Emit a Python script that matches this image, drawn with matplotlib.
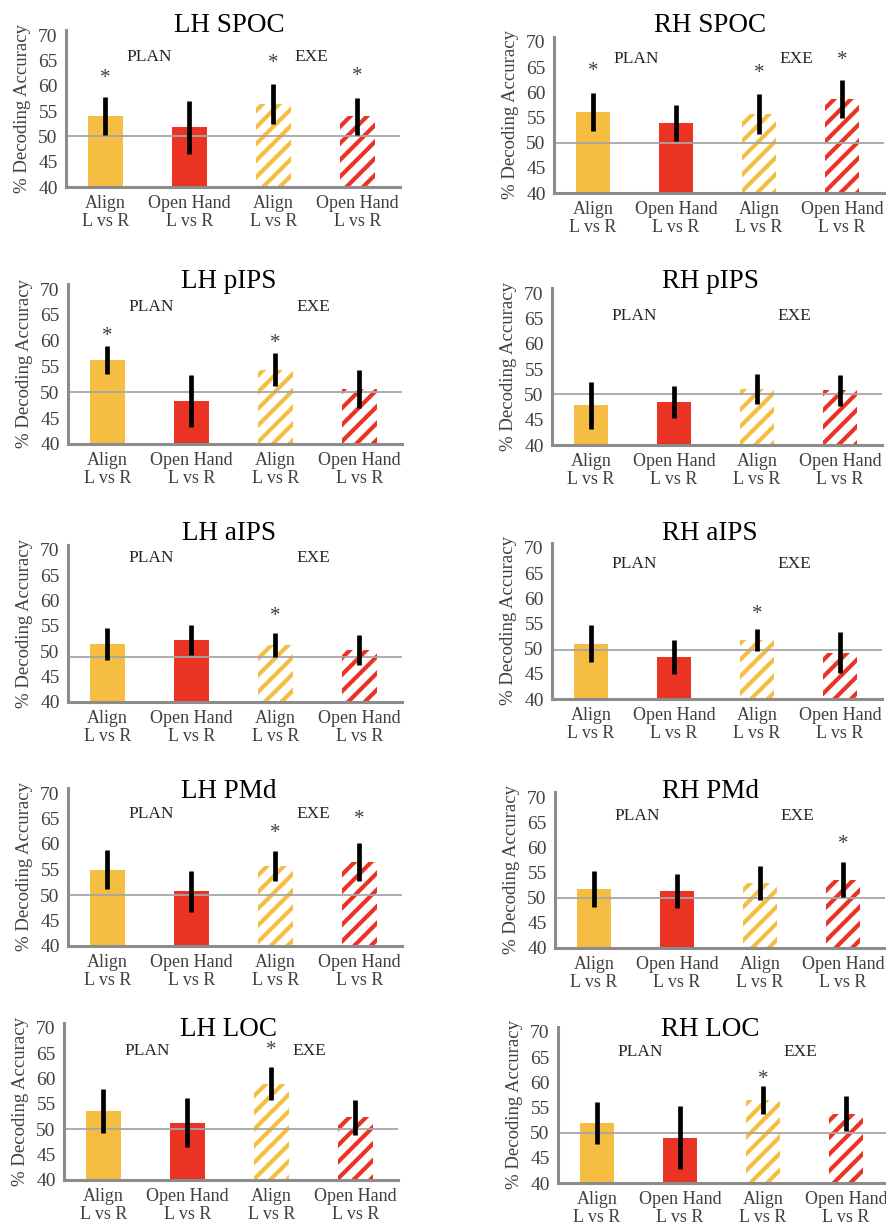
import matplotlib
matplotlib.use("Agg")
import matplotlib.pyplot as plt
import numpy as np

plt.rcParams["font.family"] = ["Liberation Serif", "DejaVu Serif"]
plt.rcParams["hatch.linewidth"] = 3.0

# data
regions = ["LH SPOC", "RH SPOC", "LH pIPS", "RH pIPS", "LH aIPS",
           "RH aIPS", "LH PMd", "RH PMd", "LH LOC", "RH LOC"]
conditions = ["Align\nL vs R", "Open Hand\nL vs R", "Align\nL vs R", "Open Hand\nL vs R"]

means = [
    [54.0, 51.8, 56.4, 54.0],
    [56.1, 53.9, 55.7, 58.7],
    [56.3, 48.3, 54.4, 50.6],
    [47.8, 48.5, 51.1, 50.8],
    [51.5, 52.3, 51.2, 50.3],
    [51.0, 48.3, 51.8, 49.2],
    [55.0, 50.7, 55.7, 56.5],
    [51.7, 51.3, 52.9, 53.6],
    [53.6, 51.3, 59.0, 52.4],
    [51.9, 49.0, 56.5, 53.8],
]
errs = [
    [3.75, 5.25, 3.95, 3.65],
    [3.8, 3.5, 3.9, 3.8],
    [2.7, 5.0, 3.25, 3.7],
    [4.6, 3.1, 2.95, 3.1],
    [3.15, 2.95, 2.4, 2.95],
    [3.7, 3.35, 2.2, 4.1],
    [3.75, 4.1, 3.0, 3.7],
    [3.6, 3.4, 3.3, 3.4],
    [4.3, 4.8, 3.25, 3.45],
    [4.2, 6.2, 2.75, 3.4],
]
# height of the significance stars (None = no star)
stars = [
    [62.4, None, 65.2, 62.7],
    [65.0, None, 64.7, 67.2],
    [61.7, None, 60.4, None],
    [None, None, None, None],
    [None, None, 57.7, None],
    [None, None, 57.6, None],
    [None, None, 62.9, 65.8],
    [None, None, None, 61.4],
    [None, None, 66.4, None],
    [None, None, 61.4, None],
]
chance = [50, 50, 50, 50, 48.8, 49.8, 50, 50, 50, 50]

# layout of each panel in pixels: spine x, y of 40, y of 70
panel_px = [
    (66, 187, 35), (554, 193, 42),
    (68, 444, 289), (552, 445, 293),
    (68, 702, 550), (552, 699, 548),
    (68, 946, 793), (555, 948, 797),
    (64, 1180, 1028), (558, 1183, 1032),
]
col_spacing = [84, 83]
title_y = [26, 282, 534, 792, 1030]
title_x = [229, 710]
phase_y = [65.7, 66.6, 66.6, 65.5, 68.4, 66.8, 65.9, 66.2, 65.5, 66.0]

yellow = "#F5BE42"
red = "#EA3323"
colors = [yellow, red, yellow, red]
hatched = [False, False, True, True]

W, H = 886, 1228
fig = plt.figure(figsize=(W / 100, H / 100), dpi=100)

x = np.arange(4)
xmin, xmax = -0.47, 3.51

for i, name in enumerate(regions):
    sx, y40, y70 = panel_px[i]
    unit = (y40 - y70) / 30
    top = 71
    h_px = (top - 40) * unit
    w_px = (xmax - xmin) * col_spacing[i % 2]
    ax = fig.add_axes([sx / W, 1 - y40 / H, w_px / W, h_px / H])
    ax.set_xlim(xmin, xmax)
    ax.set_ylim(40, top)

    for j in range(4):
        if hatched[j]:
            ax.bar(x[j], means[i][j], 0.42, color="white", edgecolor=colors[j],
                   hatch="//", linewidth=0, zorder=2)
        else:
            ax.bar(x[j], means[i][j], 0.42, color=colors[j], linewidth=0, zorder=2)
    ax.axhline(chance[i], color="#A6A6A6", lw=1.3, zorder=2.5)
    ax.errorbar(x, means[i], yerr=errs[i], fmt="none", ecolor="black",
                elinewidth=3.4, capsize=0, zorder=3)
    for j in range(4):
        if stars[i][j] is not None:
            # '*' sits high in its text box, nudge it down a little
            ax.text(x[j], stars[i][j] - 0.9, "*", ha="center", va="center",
                    fontsize=15, color="#404040")

    ax.text(0.52, phase_y[i], "PLAN", ha="center", va="center", fontsize=12.5, color="#262626")
    ax.text(2.45, phase_y[i], "EXE", ha="center", va="center", fontsize=12.5, color="#262626")

    ax.set_yticks([40, 45, 50, 55, 60, 65, 70])
    ax.set_xticks(x)
    ax.set_xticklabels(conditions, linespacing=1.05)
    ax.tick_params(axis="both", length=0, labelcolor="#404040")
    ax.tick_params(axis="x", pad=6, labelsize=13)
    ax.tick_params(axis="y", pad=6, labelsize=14)
    ax.set_ylabel("% Decoding Accuracy", fontsize=13.5, color="#404040", labelpad=5)

    for s in ["top", "right"]:
        ax.spines[s].set_visible(False)
    for s in ["left", "bottom"]:
        ax.spines[s].set_color("#8C8C8C")
        ax.spines[s].set_linewidth(2.2)

    fig.text(title_x[i % 2] / W, 1 - title_y[i // 2] / H, name, ha="center", va="center",
             fontsize=19.5, color="black")

fig.savefig("out.png", dpi=100)
